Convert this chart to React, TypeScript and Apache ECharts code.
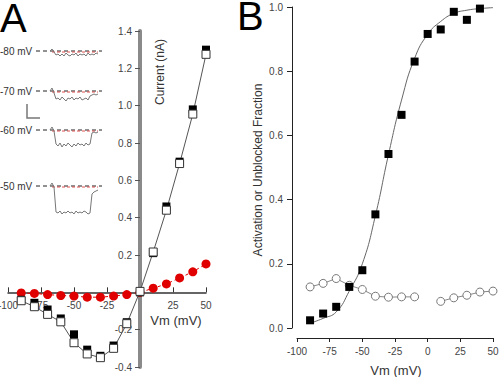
import React, { useEffect, useRef } from "react";
import * as echarts from "echarts";

// Panel A: I-V data (Vm in mV, current in nA)
const vmA = [-90, -80, -70, -60, -50, -40, -30, -20, -10, 0, 10, 20, 30, 40, 50];
const currentFilled = [-0.04, -0.056, -0.092, -0.14, -0.225, -0.307, -0.34, -0.285, -0.16, 0.0, 0.21, 0.46, 0.7, 0.98, 1.3];
const currentOpen = [-0.045, -0.077, -0.118, -0.158, -0.27, -0.33, -0.35, -0.3, -0.168, 0.005, 0.216, 0.44, 0.69, 0.955, 1.275];
const currentRed = [-0.003, -0.006, -0.012, -0.017, -0.02, -0.026, -0.026, -0.02, -0.012, 0.0, 0.022, 0.045, 0.077, 0.11, 0.152];

// Panel B
const vmB = [-90, -80, -70, -60, -50, -40, -30, -20, -10, 0, 10, 20, 30, 40, 50];
const activation = [0.024, 0.045, 0.066, 0.128, 0.18, 0.354, 0.542, 0.664, 0.83, 0.916, 0.93, 0.985, 0.96, 0.995, 1.012];
const unblocked = [0.128, 0.139, 0.154, 0.133, 0.12, 0.099, 0.096, 0.097, 0.097, null, 0.083, 0.094, 0.102, 0.112, 0.115];
const fitCurve = [0.015, 0.03, 0.05, 0.115, 0.2, 0.35, 0.54, 0.71, 0.84, 0.915, 0.955, 0.98, 0.99, 0.995, 0.998];

// Inset traces (arbitrary units, sampled every 2 time units)
const traceLabels = ["-80 mV", "-70 mV", "-60 mV", "-50 mV"];
const traces = [
  [0, 2, -1, -4, -3, -5, -3, -5, -2, -4, -5, -3, -4, -2, -5, -3, -4, -3, -5, -2, -4, -3, -4, -2, -3],
  [0, 3, -2, -8, -7, -9, -6, -8, -10, -7, -8, -6, -9, -7, -8, -6, -9, -8, -7, -9, -5, -4, -3, -4, -3],
  [0, 3, -1, -14, -16, -13, -17, -14, -16, -13, -15, -17, -14, -16, -13, -15, -14, -16, -13, -15, -14, -3, -2, -3, -2],
  [0, 3, -1, -26, -27, -25, -28, -26, -27, -25, -27, -26, -28, -25, -27, -26, -27, -25, -26, -28, -27, -8, -6, -5, -4],
];

const FONT = "Liberation Sans, Arial, sans-serif";

export default function App() {
  const ref = useRef<HTMLDivElement>(null);
  useEffect(() => {
    if (!ref.current) return;
    const chart = echarts.init(ref.current, null, { renderer: "svg" });
    const traceTops = [46, 86, 125, 181];

    const gA = { left: 8, top: 31, width: 198, height: 336 };
    const zeroX = gA.left + gA.width * (100 / 150);
    const zeroY = gA.top + gA.height * (1.4 / 1.8);

    const grids: any[] = [
      { ...gA, containLabel: false, outerBoundsMode: "none" },
      { left: 297, top: 7, width: 196, height: 321, containLabel: false, outerBoundsMode: "none" },
      ...traceTops.map((t) => ({ left: 36, top: t, width: 66, height: 35, containLabel: false, outerBoundsMode: "none" })),
    ];

    const xAxes: any[] = [
      {
        gridIndex: 0, type: "value", min: -100, max: 50, interval: 25, position: "bottom",
        offset: -(gA.top + gA.height - zeroY),
        axisLine: { onZero: false, lineStyle: { color: "#333", width: 1.5 } },
        axisTick: { inside: true, length: 5, lineStyle: { color: "#333" } },
        axisLabel: { color: "#444", fontSize: 10, fontFamily: FONT, margin: 8, formatter: (v: number) => (v === 0 ? "" : String(v)) },
        splitLine: { show: false },
      },
      {
        gridIndex: 1, type: "value", min: -100, max: 50, interval: 25, offset: 10,
        axisLine: { onZero: false, lineStyle: { color: "#222", width: 1 } },
        axisTick: { length: 4, lineStyle: { color: "#222" } },
        axisLabel: { color: "#444", fontSize: 10, fontFamily: FONT, margin: 8 },
        splitLine: { show: false },
      },
      ...traceTops.map((_, i) => ({ gridIndex: i + 2, type: "value", min: -14, max: 52, show: false })),
    ];

    const yAxes: any[] = [
      {
        gridIndex: 0, type: "value", min: -0.4, max: 1.4, interval: 0.2, position: "left",
        offset: -(zeroX - gA.left),
        axisLine: { onZero: false, lineStyle: { color: "#8a8a8a", width: 4 } },
        axisTick: { length: 5, lineStyle: { color: "#555" } },
        axisLabel: { color: "#444", fontSize: 10, fontFamily: FONT, margin: 8, formatter: (v: number) => (Math.abs(v) < 1e-9 ? "" : v.toFixed(1)) },
        splitLine: { show: false },
      },
      {
        gridIndex: 1, type: "value", min: 0, max: 1.0, interval: 0.2, offset: 5,
        axisLine: { onZero: false, lineStyle: { color: "#222", width: 1 } },
        axisTick: { length: 5, lineStyle: { color: "#222" } },
        axisLabel: { color: "#444", fontSize: 10, fontFamily: FONT, margin: 9, formatter: (v: number) => v.toFixed(1) },
        splitLine: { show: false },
      },
      ...traceTops.map((_, i) => ({ gridIndex: i + 2, type: "value", min: -30, max: 5, show: false })),
    ];

    const series: any[] = [
      {
        type: "line", xAxisIndex: 0, yAxisIndex: 0, data: vmA.map((v, i) => [v, currentRed[i]]),
        symbol: "circle", symbolSize: 9, itemStyle: { color: "#e00000", opacity: 1 },
        lineStyle: { color: "#e00000", width: 1, type: [3, 3] }, z: 3,
      },
      {
        type: "line", xAxisIndex: 0, yAxisIndex: 0, data: vmA.map((v, i) => [v, currentOpen[i]]),
        showSymbol: false, symbol: "none", lineStyle: { color: "#555", width: 1 }, z: 2,
      },
      {
        type: "scatter", xAxisIndex: 0, yAxisIndex: 0, data: vmA.map((v, i) => [v, currentFilled[i]]),
        symbol: "rect", symbolSize: 8, itemStyle: { color: "#000", opacity: 1 }, z: 4,
      },
      {
        type: "scatter", xAxisIndex: 0, yAxisIndex: 0, data: vmA.map((v, i) => [v, currentOpen[i]]),
        symbol: "rect", symbolSize: 8, itemStyle: { color: "#fff", borderColor: "#333", borderWidth: 1, opacity: 1 }, z: 5,
      },
      {
        type: "line", xAxisIndex: 1, yAxisIndex: 1, data: vmB.map((v, i) => [v, fitCurve[i]]),
        smooth: true, symbol: "none", lineStyle: { color: "#666", width: 1 }, z: 2,
      },
      {
        type: "line", xAxisIndex: 1, yAxisIndex: 1, data: vmB.map((v, i) => [v, unblocked[i]]),
        symbol: "circle", symbolSize: 8, itemStyle: { color: "#fff", borderColor: "#777", borderWidth: 1, opacity: 1 },
        lineStyle: { color: "#888", width: 1 }, connectNulls: false, z: 3,
      },
      {
        type: "scatter", xAxisIndex: 1, yAxisIndex: 1, data: vmB.map((v, i) => [v, activation[i]]),
        symbol: "rect", symbolSize: 8, itemStyle: { color: "#000", opacity: 1 }, z: 4,
      },
    ];

    traces.forEach((tr, i) => {
      series.push({
        type: "line", xAxisIndex: i + 2, yAxisIndex: i + 2, data: [[-14, 0], [52, 0]],
        symbol: "none", lineStyle: { color: "#222", width: 1, type: [4, 3] }, z: 2,
      });
      series.push({
        type: "line", xAxisIndex: i + 2, yAxisIndex: i + 2, data: [[2, -1], [48, -1]],
        symbol: "none", lineStyle: { color: "#e05050", width: 1, type: [3, 2] }, z: 3,
      });
      series.push({
        type: "line", xAxisIndex: i + 2, yAxisIndex: i + 2, data: tr.map((y, k) => [k * 2, y]),
        symbol: "none", lineStyle: { color: "#777", width: 1 }, z: 4,
      });
    });

    const graphic: any[] = [
      { type: "text", x: 0, y: 1, style: { text: "A", fontSize: 40, lineHeight: 34, fontFamily: FONT, fill: "#000", verticalAlign: "top" } },
      { type: "text", x: 237, y: -1, style: { text: "B", fontSize: 40, lineHeight: 34, fontFamily: FONT, fill: "#000", verticalAlign: "top" } },
      ...traceLabels.map((t, i) => ({
        type: "text", x: 0, y: traceTops[i] + 5, style: { text: t, fontSize: 10, fontFamily: FONT, fill: "#333", verticalAlign: "middle" },
      })),
      { type: "polyline", shape: { points: [[27, 104], [27, 118], [40, 118]] }, style: { stroke: "#777", lineWidth: 1.5, fill: null } },
      {
        type: "text", x: 160, y: 72, rotation: Math.PI / 2,
        style: { text: "Current (nA)", fontSize: 12, fontFamily: FONT, fill: "#333", align: "center", verticalAlign: "middle" },
      },
      { type: "text", x: 176, y: 320, style: { text: "Vm (mV)", fontSize: 13, fontFamily: FONT, fill: "#333", align: "center", verticalAlign: "middle" } },
      {
        type: "text", x: 258, y: 170, rotation: Math.PI / 2,
        style: { text: "Activation or Unblocked Fraction", fontSize: 12, fontFamily: FONT, fill: "#333", align: "center", verticalAlign: "middle" },
      },
      { type: "text", x: 396, y: 370, style: { text: "Vm (mV)", fontSize: 13, fontFamily: FONT, fill: "#333", align: "center", verticalAlign: "middle" } },
    ];

    chart.setOption({
      animation: false,
      backgroundColor: "#fff",
      grid: grids,
      xAxis: xAxes,
      yAxis: yAxes,
      series,
      graphic,
    });
    return () => chart.dispose();
  }, []);
  return <div ref={ref} style={{ width: 500, height: 377, position: "absolute", left: 0, top: 0 }} />;
}
